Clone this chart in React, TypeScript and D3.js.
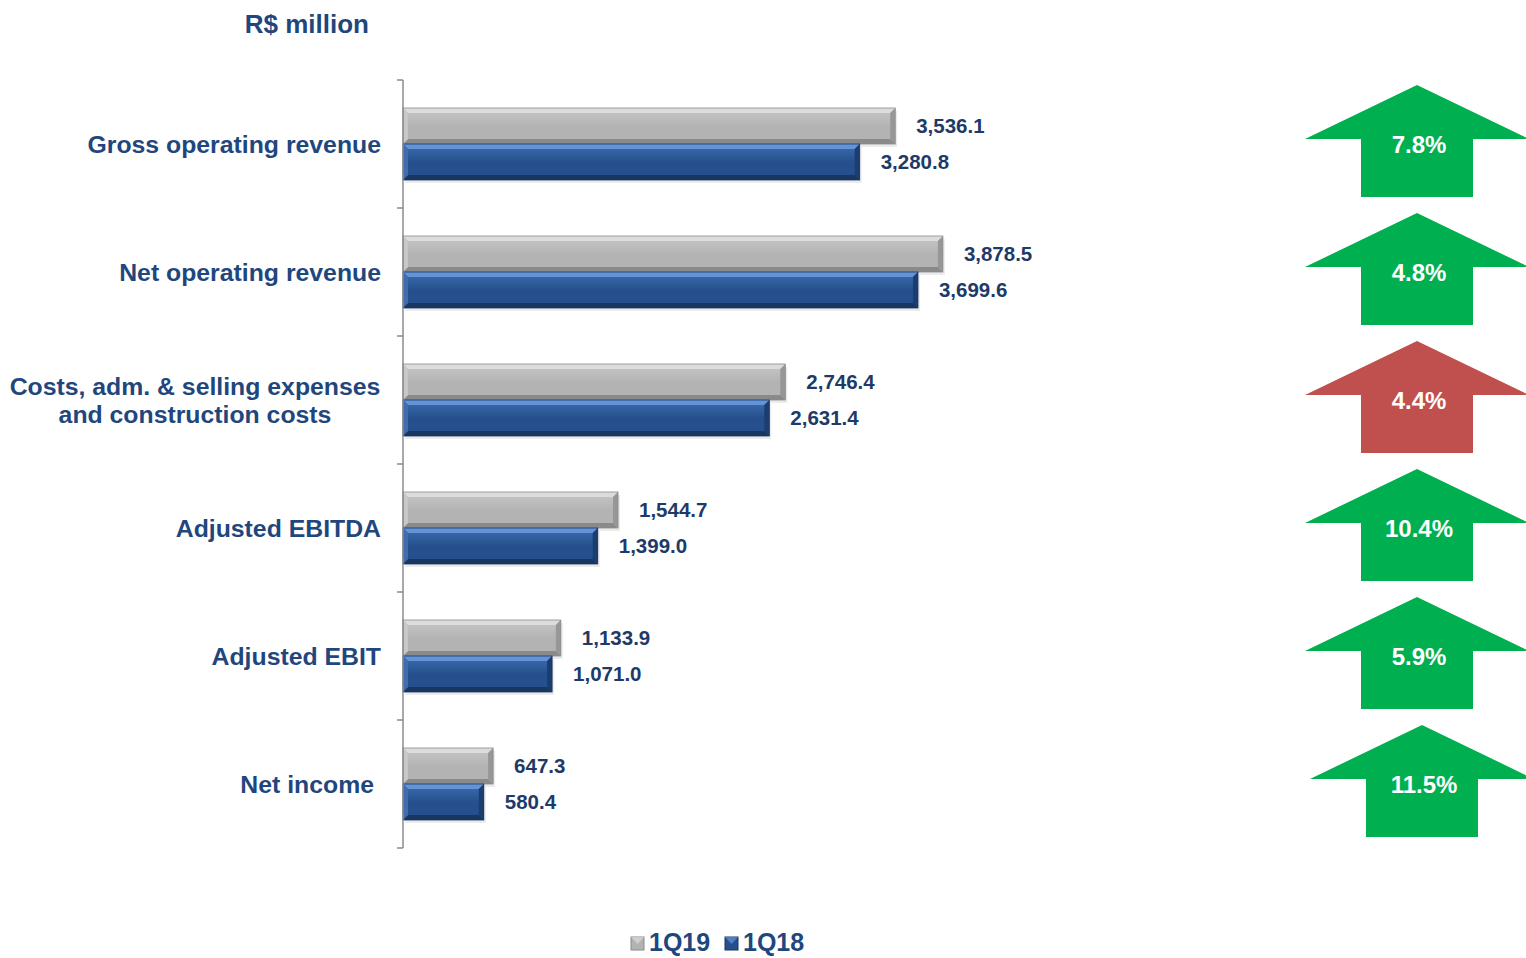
import React from 'react';
import * as d3 from 'd3';

// Values in R$ million
const categories = [
  ['Gross operating revenue'],
  ['Net operating revenue'],
  ['Costs, adm. & selling expenses', 'and construction costs'],
  ['Adjusted EBITDA'],
  ['Adjusted EBIT'],
  ['Net income'],
];
const series = ['1Q19', '1Q18'];
const values1Q19 = [3536.1, 3878.5, 2746.4, 1544.7, 1133.9, 647.3];
const values1Q18 = [3280.8, 3699.6, 2631.4, 1399.0, 1071.0, 580.4];
const changes = ['7.8%', '4.8%', '4.4%', '10.4%', '5.9%', '11.5%'];
const changeGood = [true, true, false, true, true, true];

const W = 1526;
const H = 958;
const FONT = 'Arial, "Liberation Sans", sans-serif';
const NAVY = '#1F477D';
const LABEL = '#1E3A68';

const fmt = d3.format(',.1f');

const palette: Record<string, { mid: string; top: string; bot: string; side: string; hi: string }> = {
  '1Q19': { mid: '#B3B3B3', top: '#DCDCDC', bot: '#8A8A8A', side: '#979797', hi: '#C8C8C8' },
  '1Q18': { mid: '#25508D', top: '#6394DA', bot: '#183760', side: '#1C3E6F', hi: '#3E6DB0' },
};

function Bar({ x0, x1, y, h, s }: { x0: number; x1: number; y: number; h: number; s: string }) {
  const c = palette[s];
  const b = 5;
  const w = x1 - x0;
  return (
    <g>
      <rect x={x0 + 2} y={y + 3} width={w} height={h} fill="#000" opacity={0.08} />
      <rect x={x0} y={y} width={w} height={h} fill={`url(#grad-${s})`} />
      <polygon points={`${x0},${y} ${x1},${y} ${x1 - b},${y + b} ${x0 + b},${y + b}`} fill={c.top} />
      <polygon points={`${x0},${y + h} ${x1},${y + h} ${x1 - b},${y + h - b} ${x0 + b},${y + h - b}`} fill={c.bot} />
      <polygon points={`${x1},${y} ${x1},${y + h} ${x1 - b},${y + h - b} ${x1 - b},${y + b}`} fill={c.side} />
      <polygon points={`${x0},${y} ${x0},${y + h} ${x0 + b},${y + h - b} ${x0 + b},${y + b}`} fill={c.hi} />
      <rect x={x0} y={y} width={w} height={h} fill="none" stroke={c.bot} strokeWidth={0.8} />
    </g>
  );
}

export default function App() {
  const x = d3.scaleLinear().domain([0, 1000]).range([403, 403 + 139.2]);
  const y = d3.scaleBand<number>().domain(d3.range(categories.length)).range([80, 848]).padding(0);
  const sub = d3.scaleBand<string>().domain(series).range([0, y.bandwidth()]).paddingInner(0).paddingOuter(0.778);
  const bw = sub.bandwidth();
  const vals: Record<string, number[]> = { '1Q19': values1Q19, '1Q18': values1Q18 };
  const ticks = d3.range(categories.length + 1).map((i) => 80 + i * y.step());

  const arrowCx = 1417;
  const headHalf = 112;
  const shaftHalf = 56;

  return (
    <div style={{ position: 'absolute', left: 0, top: 0 }}>
      <svg width={W} height={H} style={{ display: 'block' }} fontFamily={FONT}>
        <defs>
          {series.map((s) => (
            <linearGradient key={s} id={`grad-${s}`} x1="0" y1="0" x2="0" y2="1">
              <stop offset="0" stopColor={palette[s].hi} />
              <stop offset="0.5" stopColor={palette[s].mid} />
              <stop offset="1" stopColor={palette[s].mid} />
            </linearGradient>
          ))}
        </defs>
        <rect width={W} height={H} fill="#fff" />

        <text x={369} y={33} textAnchor="end" fontSize={26} fontWeight="bold" fill={NAVY}>
          R$ million
        </text>

        {/* bars */}
        {categories.map((cat, i) => {
          const y0 = y(i)!;
          const cy = y0 + y.bandwidth() / 2;
          const multi = cat.length > 1;
          const lx = multi ? 195 : i === categories.length - 1 ? 374 : 381;
          return (
            <g key={i}>
              {series.map((s) => {
                const v = vals[s][i];
                const by = y0 + sub(s)!;
                return (
                  <g key={s}>
                    <Bar x0={x(0)} x1={x(v)} y={by} h={bw} s={s} />
                    <text x={x(v) + 21} y={by + bw / 2} dy="0.36em" fontSize={20.5} fontWeight="bold" fill={LABEL}>
                      {fmt(v)}
                    </text>
                  </g>
                );
              })}
              <text x={lx} y={cy} textAnchor={multi ? 'middle' : 'end'} fontSize={24.8} fontWeight="bold" fill={NAVY}>
                {cat.map((line, j) => (
                  <tspan key={j} x={lx} dy={j === 0 ? `${0.36 - (cat.length - 1) * 0.57}em` : '1.14em'}>
                    {line}
                  </tspan>
                ))}
              </text>

              {/* change arrow */}
              <g transform={`translate(${arrowCx + (i === categories.length - 1 ? 5 : 0)},${cy})`}>
                <polygon
                  points={[
                    [0, -59],
                    [headHalf, -5],
                    [shaftHalf, -5],
                    [shaftHalf, 53],
                    [-shaftHalf, 53],
                    [-shaftHalf, -5],
                    [-headHalf, -5],
                  ].map((p) => p.join(',')).join(' ')}
                  fill={changeGood[i] ? '#00B050' : '#C0504D'}
                />
                <text x={2} y={0} dy="0.36em" textAnchor="middle" fontSize={24} fontWeight="bold" fill="#fff">
                  {changes[i]}
                </text>
              </g>
            </g>
          );
        })}

        {/* axis */}
        <line x1={403} x2={403} y1={80} y2={848} stroke="#8C8C8C" strokeWidth={1.5} />
        {ticks.map((t) => (
          <line key={t} x1={397} x2={403} y1={t} y2={t} stroke="#8C8C8C" strokeWidth={1.5} />
        ))}

        {/* legend */}
        {series.map((s, i) => {
          const lx = 631 + i * 94;
          return (
            <g key={s}>
              <rect x={lx} y={937} width={13} height={13} fill={palette[s].mid} stroke={palette[s].bot} strokeWidth={1} />
              <polygon points={`${lx},${937} ${lx + 13},${937} ${lx + 6.5},${944}`} fill={palette[s].top} opacity={0.7} />
              <text x={lx + 18} y={951} fontSize={25} fontWeight="bold" fill={NAVY}>
                {s}
              </text>
            </g>
          );
        })}
      </svg>
    </div>
  );
}
